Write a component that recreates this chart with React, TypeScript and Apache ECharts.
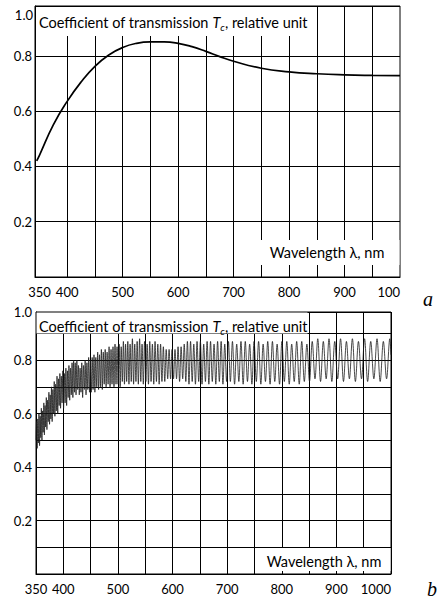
import React, { useEffect, useRef } from "react";
import * as echarts from "echarts";

// ---------- Panel a : smooth transmission curve ----------
const wlA = [345, 350, 375, 400, 425, 450, 475, 500, 525, 550, 575, 600, 625, 650, 675, 700, 750, 800, 850, 900, 950, 1000];
const tA = [0.42, 0.44, 0.55, 0.635, 0.705, 0.762, 0.803, 0.83, 0.845, 0.85, 0.85, 0.845, 0.833, 0.816, 0.797, 0.78, 0.755, 0.742, 0.735, 0.731, 0.729, 0.728];

// ---------- Panel b : interference spectrum (peaks / troughs) ----------
const b350: number[][] = [
  [350.0, 0.5], [351.0, 0.57], [352.1, 0.47], [353.2, 0.58], [354.3, 0.49], [355.4, 0.6], [356.5, 0.48], [357.6, 0.59],
  [358.7, 0.51], [359.8, 0.62], [360.9, 0.5], [362.0, 0.61], [363.1, 0.53], [364.3, 0.64], [365.4, 0.52], [366.6, 0.63],
  [367.7, 0.55], [368.9, 0.66], [370.0, 0.54], [371.2, 0.65], [372.4, 0.57], [373.6, 0.68], [374.8, 0.56], [376.0, 0.67],
  [377.2, 0.58], [378.4, 0.7], [379.6, 0.57], [380.9, 0.69], [382.1, 0.6], [383.4, 0.72], [384.6, 0.59], [385.9, 0.71],
  [387.2, 0.61], [388.5, 0.74], [389.8, 0.6], [391.1, 0.73], [392.4, 0.63], [393.7, 0.75], [395.0, 0.62], [396.4, 0.74],
  [397.7, 0.64], [399.1, 0.76],
];
const b400: number[][] = [
  [400.5, 0.62], [401.9, 0.75], [403.3, 0.64], [404.7, 0.77], [406.1, 0.63], [407.5, 0.76], [408.9, 0.66], [410.3, 0.78],
  [411.7, 0.65], [413.1, 0.77], [414.6, 0.67], [416.0, 0.79], [417.5, 0.66], [418.9, 0.8], [420.4, 0.68], [421.8, 0.79],
  [423.3, 0.67], [424.8, 0.8], [426.3, 0.69], [427.8, 0.78], [429.3, 0.67], [430.8, 0.77], [432.3, 0.68], [433.8, 0.79],
  [435.4, 0.66], [436.9, 0.78], [438.5, 0.69], [440.0, 0.8], [441.6, 0.67], [443.2, 0.79], [444.8, 0.69], [446.4, 0.81],
  [448.0, 0.68], [449.6, 0.8],
];
const b450: number[][] = [
  [451.2, 0.68], [452.9, 0.81], [454.5, 0.69], [456.2, 0.82], [457.8, 0.68], [459.5, 0.81], [461.2, 0.7], [462.9, 0.83],
  [464.6, 0.69], [466.3, 0.82], [468.0, 0.7], [469.7, 0.84], [471.4, 0.69], [473.2, 0.83], [474.9, 0.71], [476.7, 0.84],
  [478.4, 0.7], [480.2, 0.83], [482.0, 0.71], [483.8, 0.85], [485.6, 0.7], [487.4, 0.84], [489.2, 0.71], [491.0, 0.85],
  [492.8, 0.7], [494.7, 0.86], [496.5, 0.71], [498.4, 0.85],
];
const b500: number[][] = [
  [500.3, 0.71], [502.2, 0.86], [504.1, 0.7], [506.0, 0.85], [508.0, 0.72], [510.0, 0.87], [512.0, 0.71], [514.0, 0.86],
  [516.0, 0.72], [518.1, 0.87], [520.2, 0.71], [522.3, 0.86], [524.4, 0.72], [526.5, 0.88], [528.7, 0.71], [530.8, 0.86],
  [533.0, 0.72], [535.2, 0.87], [537.4, 0.71], [539.7, 0.88], [541.9, 0.72], [544.2, 0.86], [546.5, 0.71], [548.8, 0.87],
  [551.2, 0.72], [553.5, 0.86], [555.9, 0.71], [558.3, 0.87], [560.7, 0.72], [563.1, 0.86], [565.6, 0.71], [568.0, 0.87],
  [570.5, 0.72], [573.0, 0.86], [575.5, 0.71], [578.1, 0.86], [580.6, 0.72], [583.2, 0.85], [585.8, 0.72], [588.4, 0.84],
  [591.1, 0.73], [593.7, 0.84], [596.4, 0.73], [599.1, 0.84],
];
const b600: number[][] = [
  [601.8, 0.73], [604.5, 0.84], [607.3, 0.73], [610.1, 0.85], [612.9, 0.72], [615.7, 0.85], [618.6, 0.73], [621.4, 0.86],
  [624.3, 0.72], [627.2, 0.87], [630.1, 0.71], [633.0, 0.87], [636.0, 0.72], [638.9, 0.86], [641.9, 0.71], [644.9, 0.87],
  [647.9, 0.72], [651.0, 0.87], [654.0, 0.71], [657.1, 0.86], [660.2, 0.72], [663.3, 0.87], [666.5, 0.71], [669.6, 0.87],
  [672.8, 0.72], [676.0, 0.86], [679.2, 0.71], [682.5, 0.87], [685.7, 0.72], [689.0, 0.87], [692.3, 0.71], [695.6, 0.86],
  [699.0, 0.72],
];
const b700: number[][] = [
  [702.4, 0.87], [705.9, 0.72], [709.7, 0.87], [713.6, 0.71], [717.5, 0.86], [721.4, 0.72], [725.3, 0.87], [729.3, 0.71],
  [733.2, 0.87], [737.2, 0.72], [741.2, 0.86], [745.3, 0.71], [749.3, 0.87], [753.4, 0.72], [757.6, 0.87], [761.7, 0.71],
  [765.9, 0.86], [770.1, 0.72], [774.3, 0.87], [778.6, 0.71], [782.9, 0.87], [787.2, 0.72], [791.5, 0.86], [795.9, 0.71],
  [800.3, 0.87], [804.7, 0.72], [809.2, 0.87], [813.7, 0.71], [818.2, 0.86], [822.8, 0.72], [827.3, 0.87], [832.0, 0.71],
  [836.6, 0.87], [841.3, 0.72], [846.0, 0.86],
];
const b850: number[][] = [
  [850.8, 0.72], [855.8, 0.87], [860.8, 0.73], [865.9, 0.88], [871.0, 0.72], [876.1, 0.87], [881.3, 0.73], [886.5, 0.88],
  [891.7, 0.72], [897.0, 0.87], [902.3, 0.73], [907.6, 0.88], [913.0, 0.72], [918.4, 0.87], [923.8, 0.73], [929.3, 0.88],
  [934.8, 0.72], [940.4, 0.87], [946.0, 0.73], [951.6, 0.88], [957.2, 0.72], [962.9, 0.87], [968.6, 0.73], [974.4, 0.88],
  [980.2, 0.72], [986.0, 0.87], [991.9, 0.73], [997.8, 0.88], [1000.0, 0.82],
];

// ---------- Axis ticks / labels ----------
const gridTicksA = [400, 450, 500, 550, 600, 650, 700, 750, 800, 850, 900, 950];
const xLabelValsA = [350, 400, 500, 600, 700, 800, 900, 1000];
const xLabelTextA = ["350", "400", "500", "600", "700", "800", "900", "100"];
const xLabelValsB = [350, 400, 500, 600, 700, 800, 900, 1000];
const xLabelTextB = ["350", "400", "500", "600", "700", "800", "900", "1000"];
const yLabelVals = [0.2, 0.4, 0.6, 0.8];
const yLabelText = ["0.2", "0.4", "0.6", "0.8"];
const yTopLabel = "1.0";
const titleText = "Coefficient of transmission {i|T}{s|c}, relative unit";
const xTitleText = "Wavelength λ, nm";

const FONT = "Lato";
const BLACK = "#000";
const TITLE_SIZE = 14.5;

function yFmt(v: number, topText: string) {
  if (v > 0.95) return topText;
  const i = yLabelVals.findIndex((t) => Math.abs(t - v) < 1e-6);
  return i >= 0 ? yLabelText[i] : "";
}

export default function App() {
  const ref = useRef<HTMLDivElement>(null);
  useEffect(() => {
    if (!ref.current) return;
    const chart = echarts.init(ref.current, undefined, { renderer: "svg" });
    const dataA = wlA.map((x, i) => [x, tA[i]]);
    const dataB = [...b350, ...b400, ...b450, ...b500, ...b600, ...b700, ...b850];
    const axisLabelBase = { color: BLACK, fontFamily: FONT, fontSize: 13 };
    const rich = {
      i: { fontStyle: "italic", fontFamily: FONT, fontSize: TITLE_SIZE, lineHeight: 19, fill: BLACK },
      s: { fontStyle: "italic", fontFamily: FONT, fontSize: 10, lineHeight: 10, verticalAlign: "bottom", fill: BLACK },
    };
    const titleStyle = (x: number, y: number) => ({
      type: "text",
      x,
      y,
      z: 20,
      style: {
        text: titleText,
        rich,
        fontFamily: FONT,
        fontSize: TITLE_SIZE,
        lineHeight: 19,
        fill: BLACK,
        verticalAlign: "middle",
        align: "left",
      },
    });
    const plainText = (x: number, y: number, text: string, align: string, font: string, fontStyle = "normal", fontSize = 13) => ({
      type: "text",
      x,
      y,
      z: 20,
      style: { text, fontFamily: font, fontSize, fontStyle, fill: BLACK, align, verticalAlign: "middle" },
    });
    const whiteRect = (x: number, y: number, w: number, h: number) => ({
      type: "rect",
      z: 15,
      shape: { x, y, width: w, height: h },
      style: { fill: "#fff" },
    });

    chart.setOption({
      animation: false,
      grid: [
        { left: 35, top: 6, width: 365, height: 271, show: true, borderColor: BLACK, borderWidth: 1, backgroundColor: "transparent" },
        { left: 36, top: 312, width: 355, height: 262, show: true, borderColor: BLACK, borderWidth: 1, backgroundColor: "transparent" },
      ],
      xAxis: [
        {
          gridIndex: 0,
          type: "value",
          min: 342,
          max: 1000,
          axisLine: { show: true, lineStyle: { color: BLACK, width: 1 } },
          axisTick: { show: false, customValues: gridTicksA },
          axisLabel: {
            ...axisLabelBase,
            margin: 8,
            customValues: xLabelValsA,
            alignMaxLabel: "right",
            formatter: (v: number) => {
              const i = xLabelValsA.indexOf(Math.round(v));
              return i >= 0 ? xLabelTextA[i] : "";
            },
          },
          splitLine: { show: true, lineStyle: { color: BLACK, width: 1 } },
        },
        {
          gridIndex: 1,
          type: "value",
          min: 350,
          max: 1000,
          interval: 50,
          axisLine: { show: true, lineStyle: { color: BLACK, width: 1 } },
          axisTick: { show: false },
          axisLabel: {
            ...axisLabelBase,
            margin: 8,
            alignMaxLabel: "right",
            formatter: (v: number) => {
              const i = xLabelValsB.indexOf(Math.round(v));
              return i >= 0 ? xLabelTextB[i] : "";
            },
          },
          splitLine: { show: true, lineStyle: { color: BLACK, width: 1 } },
        },
      ],
      yAxis: [
        {
          gridIndex: 0,
          type: "value",
          min: 0,
          max: 0.98,
          interval: 0.2,
          axisLine: { show: true, lineStyle: { color: BLACK, width: 1 } },
          axisTick: { show: false },
          axisLabel: { ...axisLabelBase, margin: 3, formatter: (v: number) => yFmt(v, "") },
          splitLine: { show: true, lineStyle: { color: BLACK, width: 1 } },
        },
        {
          gridIndex: 1,
          type: "value",
          min: 0,
          max: 0.98,
          interval: 0.1,
          axisLine: { show: true, lineStyle: { color: BLACK, width: 1 } },
          axisTick: { show: false },
          axisLabel: { ...axisLabelBase, margin: 4, formatter: (v: number) => yFmt(v, yTopLabel) },
          splitLine: { show: true, lineStyle: { color: BLACK, width: 1 } },
        },
      ],
      series: [
        {
          type: "line",
          xAxisIndex: 0,
          yAxisIndex: 0,
          data: dataA,
          smooth: 0.5,
          showSymbol: false,
          lineStyle: { color: BLACK, width: 1.7 },
          z: 5,
        },
        {
          type: "line",
          xAxisIndex: 1,
          yAxisIndex: 1,
          data: dataB,
          smooth: 0.35,
          showSymbol: false,
          lineStyle: { color: "#1a1a1a", width: 0.8 },
          z: 5,
        },
      ],
      graphic: [
        whiteRect(36, 7, 276, 29),
        titleStyle(39, 22),
        whiteRect(258, 240, 141.5, 25),
        plainText(327, 252, xTitleText, "center", FONT, "normal", TITLE_SIZE),
        plainText(33, 15, yTopLabel, "right", FONT),
        whiteRect(36.5, 312.5, 271, 21),
        titleStyle(39, 326),
        whiteRect(256, 548, 134.5, 23),
        plainText(324, 561, xTitleText, "center", FONT, "normal", TITLE_SIZE),
        plainText(428, 299, "a", "center", "Liberation Serif", "italic", 20),
        plainText(432, 589, "b", "center", "Liberation Serif", "italic", 20),
      ],
    });
    return () => chart.dispose();
  }, []);
  return <div ref={ref} style={{ position: "absolute", left: 0, top: 0, width: 440, height: 601 }} />;
}
